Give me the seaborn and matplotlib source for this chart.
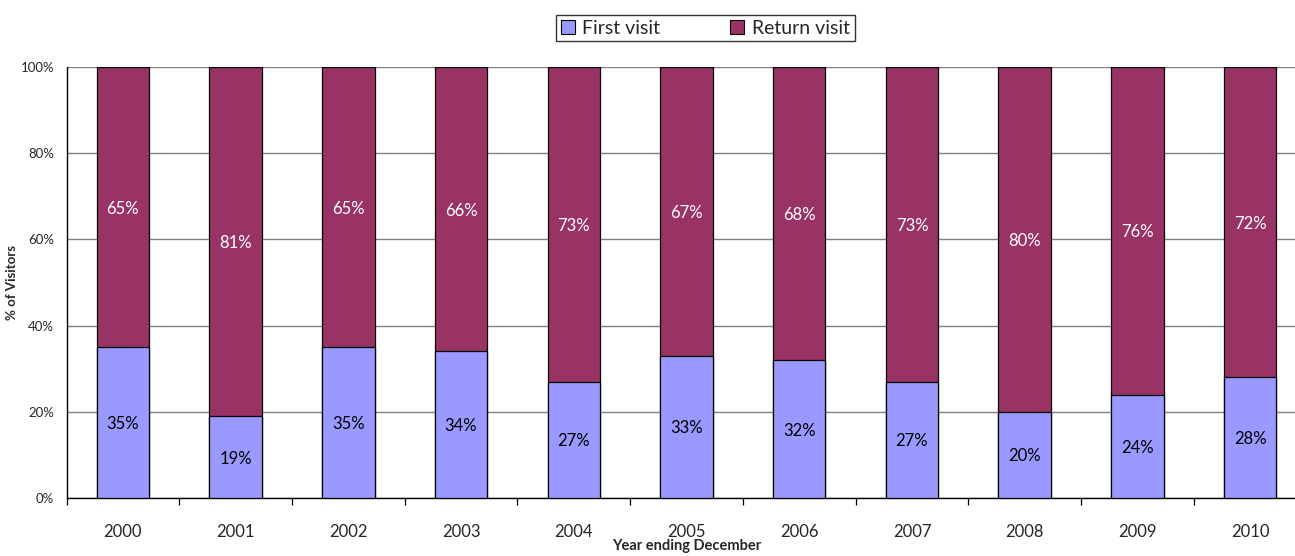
import matplotlib
matplotlib.use("Agg")
import matplotlib.pyplot as plt
import seaborn as sns
import pandas as pd
from matplotlib.patches import Patch

years = ["2000", "2001", "2002", "2003", "2004", "2005", "2006", "2007", "2008", "2009", "2010"]
first_visit = [35, 19, 35, 34, 27, 33, 32, 27, 20, 24, 28]
return_visit = [65, 81, 65, 66, 73, 67, 68, 73, 80, 76, 72]
y_ticks = [0, 20, 40, 60, 80, 100]

FIRST_COLOR = "#9999FF"
RETURN_COLOR = "#993366"

sns.set_theme(style="white")
plt.rcParams["font.family"] = ["Lato", "DejaVu Sans"]

df = pd.DataFrame({"year": years, "first": first_visit, "ret": return_visit})
df["total"] = df["first"] + df["ret"]

fig = plt.figure(figsize=(12.95, 5.56), dpi=100)
ax = fig.add_axes([66.5 / 1295, 1 - 498 / 556, 1240 / 1295, (498 - 67) / 556])

# stacked bars: full-height return bar, then first-visit bar on top of it
sns.barplot(data=df, x="year", y="total", color=RETURN_COLOR, saturation=1,
            width=0.465, edgecolor="black", linewidth=0.9, ax=ax, zorder=3)
sns.barplot(data=df, x="year", y="first", color=FIRST_COLOR, saturation=1,
            width=0.465, edgecolor="black", linewidth=0.9, ax=ax, zorder=4)

for i, (f, r) in enumerate(zip(first_visit, return_visit)):
    ax.text(i, f / 2, f"{f}%", ha="center", va="center_baseline", fontsize=12,
            color="black", zorder=5)
    ax.text(i, f + r / 2, f"{r}%", ha="center", va="center_baseline", fontsize=12,
            color="white", zorder=5)

ax.set_xlim(-0.5, len(years) - 0.5)
ax.set_ylim(0, 100)
ax.set_yticks(y_ticks)
ax.set_yticklabels([f"{v}%" for v in y_ticks], fontsize=9.5)
ax.yaxis.grid(True, color="#808080", linewidth=1.0, zorder=0)
ax.set_axisbelow(True)

# x ticks sit between categories, labels centered under bars
ax.set_xticks([i + 0.5 for i in range(len(years) - 1)] + [-0.5], minor=True)
ax.set_xticks(range(len(years)))
ax.set_xticklabels(years, fontsize=12)
ax.tick_params(axis="x", which="major", length=0, pad=19)
ax.tick_params(axis="x", which="minor", length=5, width=0.9, color="black", direction="out")
ax.tick_params(axis="y", length=5, width=0.9, color="black", direction="out", pad=4)
ax.xaxis.set_tick_params(which="minor", bottom=True)

for side in ["top", "right"]:
    ax.spines[side].set_visible(False)
for side in ["left", "bottom"]:
    ax.spines[side].set_color("black")
    ax.spines[side].set_linewidth(1.0)

ax.set_xlabel("Year ending December", fontsize=10.5, fontweight="bold")
ax.xaxis.set_label_coords(0.5, -0.095)
ax.set_ylabel("% of Visitors", fontsize=9.5, fontweight="bold")
ax.yaxis.set_label_coords(-0.039, 0.5)

handles = [Patch(facecolor=FIRST_COLOR, edgecolor="black", linewidth=0.8, label="First visit"),
           Patch(facecolor=RETURN_COLOR, edgecolor="black", linewidth=0.8, label="Return visit")]
leg = fig.legend(handles=handles, loc="center", bbox_to_anchor=(705.5 / 1295, 1 - 28 / 556),
                 ncol=2, fontsize=14, frameon=True, fancybox=False, handlelength=0.7,
                 handleheight=0.7, handletextpad=0.4, columnspacing=3.6,
                 borderpad=0.25, borderaxespad=0)
leg.get_frame().set_edgecolor("black")
leg.get_frame().set_linewidth(1.0)

fig.savefig("out.png", dpi=100)
